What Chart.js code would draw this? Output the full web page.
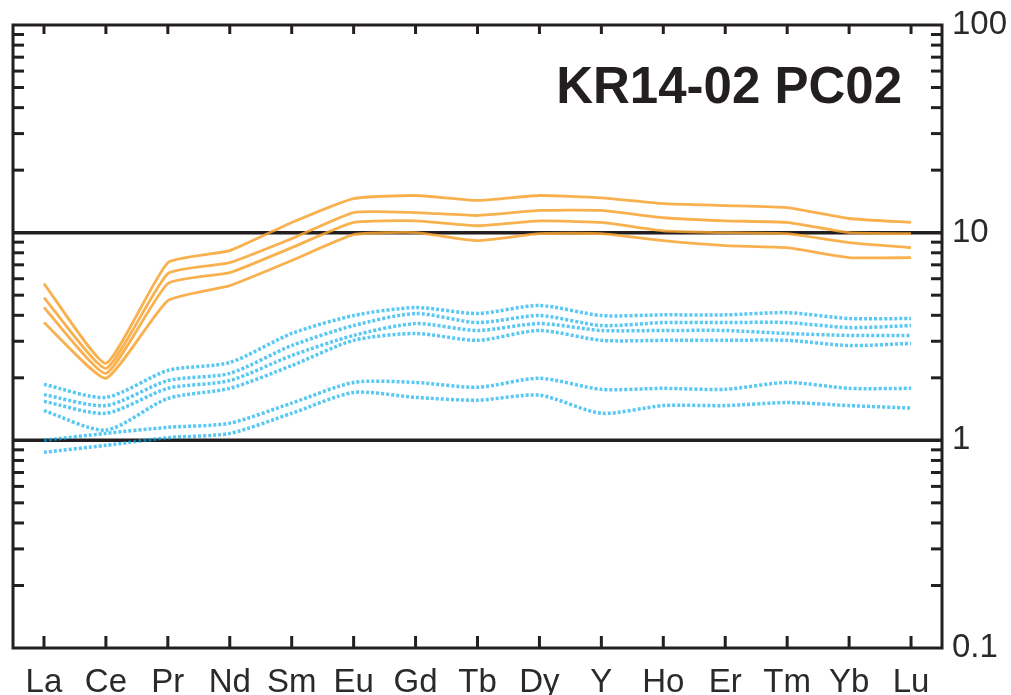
<!DOCTYPE html>
<html><head><meta charset="utf-8">
<script src="https://cdn.jsdelivr.net/npm/chart.js@4/dist/chart.umd.min.js"></script>
<style>html,body{margin:0;padding:0;background:#fff;overflow:hidden}#wrap{width:1011px;height:695px}</style>
</head><body><div id="wrap"><canvas id="c" width="1011" height="695"></canvas></div>
<script>
// ---- data ----
const categories = ['La','Ce','Pr','Nd','Sm','Eu','Gd','Tb','Dy','Y','Ho','Er','Tm','Yb','Lu'];
const yTickLabels = [0.1, 1, 10, 100];
const minorTicks = [0.2,0.3,0.4,0.5,0.6,0.7,0.8,0.9,2,3,4,5,6,7,8,9,20,30,40,50,60,70,80,90];
const referenceLines = [10, 1];
const chartTitle = 'KR14-02 PC02';

const orange1 = [5.69, 2.35, 7.17, 8.19, 11.2, 14.6, 15.1, 14.3, 15.1, 14.7, 13.8, 13.5, 13.2, 11.7, 11.2];
const orange2 = [4.87, 2.22, 6.35, 7.17, 9.36, 12.5, 12.5, 12.1, 12.8, 12.8, 11.8, 11.4, 11.2, 10.0, 9.89];
const orange3 = [4.36, 2.10, 5.69, 6.42, 8.47, 11.2, 11.4, 10.8, 11.4, 11.2, 10.2, 10.0, 9.89, 8.95, 8.47];
const orange4 = [3.69, 1.99, 4.71, 5.56, 7.34, 9.78, 10.0, 9.15, 9.89, 9.89, 9.15, 8.66, 8.47, 7.58, 7.58];

const blue1 = [1.86, 1.61, 2.17, 2.37, 3.27, 3.99, 4.36, 4.08, 4.46, 3.99, 4.02, 4.02, 4.12, 3.86, 3.86];
const blue2 = [1.66, 1.47, 1.94, 2.10, 2.86, 3.57, 4.08, 3.69, 3.99, 3.57, 3.69, 3.69, 3.69, 3.49, 3.57];
const blue3 = [1.54, 1.35, 1.78, 1.94, 2.56, 3.20, 3.65, 3.38, 3.65, 3.38, 3.38, 3.38, 3.27, 3.20, 3.20];
const blue4 = [1.39, 1.12, 1.59, 1.78, 2.29, 3.03, 3.27, 3.03, 3.38, 3.03, 3.03, 3.03, 3.03, 2.86, 2.93];
const blue5 = [1.00, 1.08, 1.155, 1.21, 1.51, 1.90, 1.90, 1.80, 1.99, 1.76, 1.78, 1.76, 1.90, 1.78, 1.78];
const blue6 = [0.876, 0.946, 1.03, 1.08, 1.35, 1.70, 1.61, 1.56, 1.65, 1.35, 1.47, 1.47, 1.52, 1.47, 1.43];

const orangeSeries = [orange1, orange2, orange3, orange4];
const blueSeries = [blue1, blue2, blue3, blue4, blue5, blue6];

// ---- styles ----
const INK = '#231f20';
const ORANGE = 'rgba(248,163,48,0.85)';
const BLUE = 'rgba(0,170,236,0.65)';
const FONT = '"Liberation Sans", Arial, sans-serif';

const datasets = [];
blueSeries.forEach((d, i) => datasets.push({
  label: 'blue' + (i + 1), data: d, borderColor: BLUE, borderWidth: 3.5,
  borderDash: [3, 2], pointRadius: 0, tension: 0.25, fill: false
}));
orangeSeries.forEach((d, i) => datasets.push({
  label: 'orange' + (i + 1), data: d, borderColor: ORANGE, borderWidth: 2.8,
  pointRadius: 0, tension: 0.15, fill: false
}));

const framePlugin = {
  id: 'frame',
  beforeDatasetsDraw(chart) {
    const {ctx, chartArea: a, scales: {y}} = chart;
    ctx.save();
    ctx.strokeStyle = INK; ctx.lineWidth = 3.5;
    referenceLines.forEach(v => {
      const py = y.getPixelForValue(v);
      ctx.beginPath(); ctx.moveTo(a.left, py); ctx.lineTo(a.right, py); ctx.stroke();
    });
    ctx.restore();
  },
  afterDatasetsDraw(chart) {
    const {ctx, chartArea: a, scales: {x, y}} = chart;
    ctx.save();
    ctx.strokeStyle = INK; ctx.lineWidth = 3;
    ctx.strokeRect(a.left, a.top, a.right - a.left, a.bottom - a.top);
    categories.forEach((c, i) => {
      const px = x.getPixelForValue(i);
      ctx.beginPath(); ctx.moveTo(px, a.top); ctx.lineTo(px, a.top + 9); ctx.stroke();
      ctx.beginPath(); ctx.moveTo(px, a.bottom); ctx.lineTo(px, a.bottom - 12); ctx.stroke();
    });
    minorTicks.forEach(v => {
      const py = y.getPixelForValue(v);
      ctx.beginPath(); ctx.moveTo(a.left, py); ctx.lineTo(a.left + 11, py); ctx.stroke();
      ctx.beginPath(); ctx.moveTo(a.right, py); ctx.lineTo(a.right - 11, py); ctx.stroke();
    });
    ctx.fillStyle = INK;
    ctx.font = 'bold 51px ' + FONT;
    ctx.textAlign = 'right';
    ctx.textBaseline = 'alphabetic';
    ctx.fillText(chartTitle, a.right - 40, a.top + 78);
    ctx.restore();
  }
};

new Chart(document.getElementById('c'), {
  type: 'line',
  data: { labels: categories, datasets },
  options: {
    responsive: false, animation: false, devicePixelRatio: 1,
    layout: { padding: { left: 13, top: 25, right: 0, bottom: 0 } },
    plugins: { legend: { display: false }, tooltip: { enabled: false } },
    scales: {
      x: {
        type: 'category', offset: true,
        grid: { display: false }, border: { display: false },
        ticks: { font: { size: 33, family: FONT }, color: '#2a2a2a', padding: 7, maxRotation: 0, autoSkip: false },
        afterFit(s) { s.height = 47; }
      },
      y: {
        type: 'logarithmic', position: 'right', min: 0.1, max: 100,
        grid: { display: false }, border: { display: false },
        afterBuildTicks(s) { s.ticks = yTickLabels.map(v => ({ value: v })); },
        ticks: { font: { size: 33, family: FONT }, color: '#2a2a2a', padding: 2,
          callback: (v) => String(yTickLabels.find(t => Math.abs(t - v) < 1e-9) ?? '') },
        afterFit(s) { s.width = 69; }
      }
    }
  },
  plugins: [framePlugin]
});
</script></body></html>
